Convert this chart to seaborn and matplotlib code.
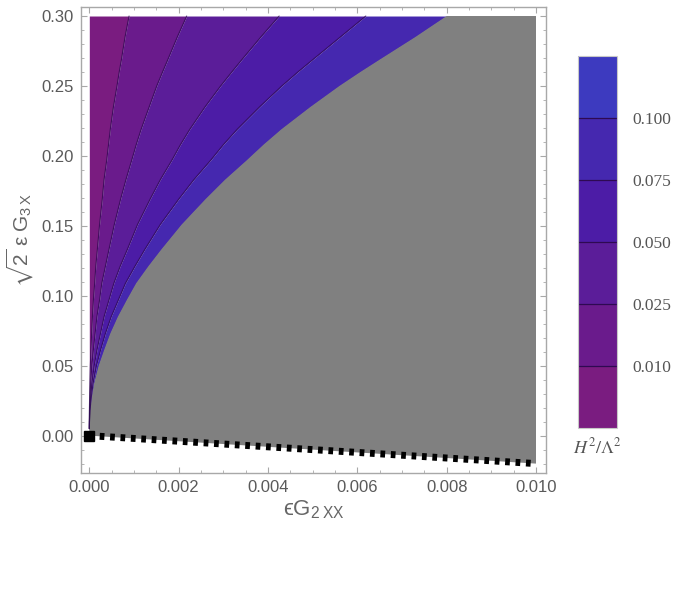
import numpy as np
import pandas as pd
import seaborn as sns
import matplotlib
matplotlib.use("Agg")
import matplotlib.pyplot as plt
from matplotlib.colors import ListedColormap, BoundaryNorm
from matplotlib.cm import ScalarMappable
from matplotlib.ticker import MultipleLocator, FormatStrFormatter

# values: y along the curves, x of each contour line
y_pts = [0.005, 0.010, 0.018, 0.028, 0.0375, 0.050, 0.061, 0.073, 0.085, 0.097, 0.109, 0.121, 0.133,
         0.151, 0.169, 0.183, 0.197, 0.208, 0.219, 0.235, 0.250, 0.260, 0.269, 0.285, 0.300]
line_010 = [0.0, 0.0000006, 0.000002, 0.000007, 0.000012, 0.000023, 0.000036, 0.000052, 0.00007, 0.000092,
            0.00012, 0.000145, 0.00018, 0.00023, 0.00029, 0.00033, 0.00039, 0.00043, 0.00047, 0.00054,
            0.00062, 0.00067, 0.00072, 0.00080, 0.00089]
line_025 = [0.0, 0.0000014, 0.000005, 0.000016, 0.00003, 0.000057, 0.00009, 0.00013, 0.00017, 0.00023,
            0.00028, 0.00036, 0.00044, 0.00056, 0.00070, 0.00082, 0.00095, 0.00105, 0.00116, 0.00134,
            0.00151, 0.00164, 0.00176, 0.00197, 0.00218]
line_050 = [0.0, 0.000003, 0.00001, 0.00003, 0.000058, 0.00011, 0.00017, 0.00025, 0.00033, 0.00044,
            0.00055, 0.00069, 0.00085, 0.00108, 0.00136, 0.00159, 0.00185, 0.00204, 0.00225, 0.00259,
            0.00294, 0.00319, 0.00342, 0.00384, 0.00425]
line_075 = [0.0, 0.000004, 0.000015, 0.000046, 0.000085, 0.00016, 0.00025, 0.00036, 0.00049, 0.00065,
            0.00081, 0.00102, 0.00124, 0.00159, 0.00200, 0.00234, 0.00272, 0.00300, 0.00331, 0.00381,
            0.00431, 0.00467, 0.00501, 0.00562, 0.00619]
boundary = [0.0, 0.000005, 0.00002, 0.00006, 0.00011, 0.00021, 0.00033, 0.00047, 0.00064, 0.00084,
            0.00105, 0.00132, 0.00161, 0.00207, 0.00260, 0.00304, 0.00353, 0.00390, 0.00430, 0.00495,
            0.00560, 0.00607, 0.00651, 0.00730, 0.00800]

# dotted line at the bottom
dot_x = [0.0, 0.010]
dot_y = [0.0, -0.020]

# contour levels and legend
levels = [0.0, 0.010, 0.025, 0.050, 0.075, 0.100, 0.120]
level_labels = ["0.010", "0.025", "0.050", "0.075", "0.100"]
band_colors = ["#7a1c80", "#6a1b8c", "#5b1d99", "#4c1ca6", "#4528af", "#3d3abf"]
gray = "#808080"
line_col = "#2e0a52"

sns.set_theme(style="ticks")
plt.rcParams["font.family"] = ["Liberation Sans", "DejaVu Sans"]
plt.rcParams["mathtext.fontset"] = "custom"
plt.rcParams["mathtext.rm"] = "Liberation Sans"
plt.rcParams["mathtext.it"] = "Liberation Sans"
plt.rcParams["mathtext.bf"] = "Liberation Sans:bold"
plt.rcParams["mathtext.fallback"] = "stixsans"

fig = plt.figure(figsize=(6.78, 5.89), dpi=100)
ax = fig.add_axes([81 / 678, 1 - 472.7 / 589, 465 / 678, 465.4 / 589])

# filled bands between contour lines
edges = [[0.0] * len(y_pts), line_010, line_025, line_050, line_075, boundary]
for i in range(5):
    ax.fill_betweenx(y_pts, edges[i], edges[i + 1], color=band_colors[i], lw=0)

# gray excluded region
gx = boundary[::-1] + [0.0, dot_x[0], dot_x[1], dot_x[1]]
gy = y_pts[::-1] + [dot_y[0], dot_y[0], dot_y[1], y_pts[-1]]
ax.fill(gx, gy, color=gray, lw=0)

# contour lines
for xs in [line_010, line_025, line_050, line_075]:
    df = pd.DataFrame({"x": xs, "y": y_pts})
    sns.lineplot(data=df, x="x", y="y", sort=False, estimator=None, ax=ax,
                 color=line_col, lw=0.8, alpha=0.75)

# dotted boundary line
df_dot = pd.DataFrame({"x": dot_x, "y": dot_y})
sns.lineplot(data=df_dot, x="x", y="y", sort=False, estimator=None, ax=ax,
             color="black", lw=5.0, dashes=[(0.68, 0.82)], style=[0, 0], legend=False)
ax.plot(dot_x[0], dot_y[0], marker="s", ms=6.5, color="black", ls="none")

ax.set_xlim(-0.000186, 0.010224)
ax.set_ylim(-0.0265, 0.30623)

frame_col = "#a8a8a8"
for s in ax.spines.values():
    s.set_color(frame_col)
    s.set_linewidth(1.0)
ax.xaxis.set_major_locator(MultipleLocator(0.002))
ax.xaxis.set_minor_locator(MultipleLocator(0.0005))
ax.yaxis.set_major_locator(MultipleLocator(0.05))
ax.yaxis.set_minor_locator(MultipleLocator(0.01))
ax.xaxis.set_major_formatter(FormatStrFormatter("%.3f"))
ax.yaxis.set_major_formatter(FormatStrFormatter("%.2f"))
ax.tick_params(which="both", direction="in", top=True, right=True, color=frame_col,
               labelcolor="#5a5a5a", labelsize=12)
ax.tick_params(which="major", length=4, width=0.8, pad=5)
ax.tick_params(which="minor", length=2.2, width=0.6)

ax.set_xlabel("$\u03f5G_{2\\;XX}$", fontsize=16, color="#666666", labelpad=3)
ax.set_ylabel(r"$\sqrt{2}\;\varepsilon\;G_{3\;X}$", fontsize=15, color="#666666", labelpad=4)

# legend bar
cax = fig.add_axes([578 / 678, 1 - 428 / 589, 39 / 678, 372 / 589])
cmap = ListedColormap(band_colors)
norm = BoundaryNorm(levels, cmap.N)
cb = fig.colorbar(ScalarMappable(norm=norm, cmap=cmap), cax=cax, spacing="uniform",
                  ticks=levels[1:-1])
cb.set_ticklabels(level_labels)
cb.add_lines(levels[1:-1], [line_col] * 5, [0.9] * 5)
cb.outline.set_edgecolor("#c8c8c8")
cb.outline.set_linewidth(0.8)
cax.minorticks_off()
cax.tick_params(which="both", length=0, pad=11, labelsize=12.5, labelcolor="#555555")
for t in cax.get_yticklabels():
    t.set_fontfamily(["Liberation Serif", "DejaVu Serif"])
cax.text(0.5, -0.025, r"$H^2/\Lambda^2$", transform=cax.transAxes, ha="center", va="top",
         fontsize=13, color="#555555", math_fontfamily="stix")

fig.savefig("out.png", dpi=100)
